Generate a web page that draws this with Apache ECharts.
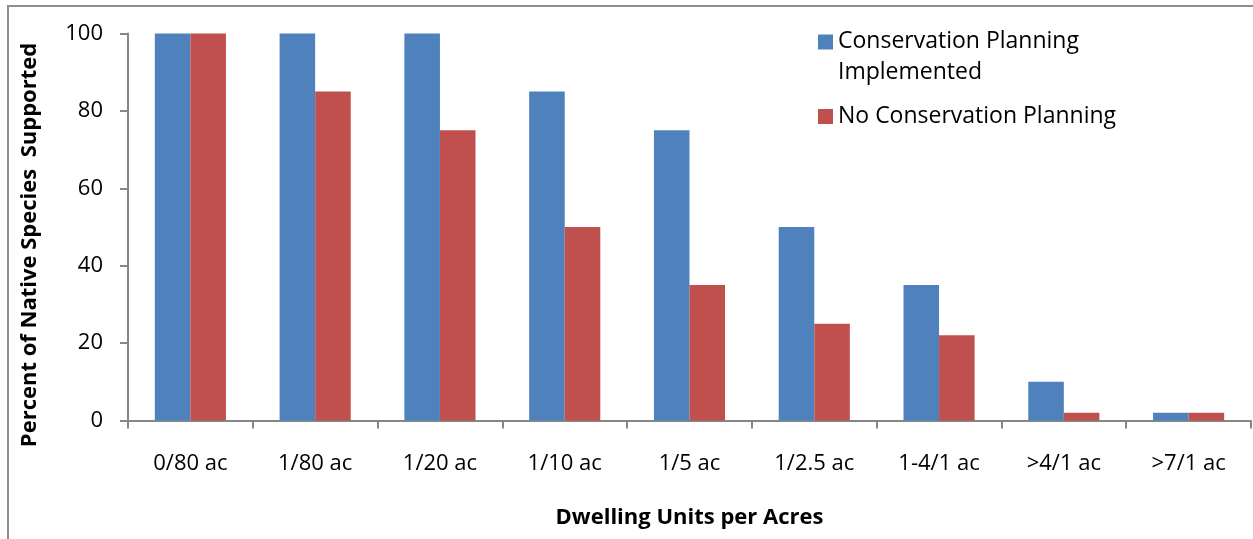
<!DOCTYPE html>
<html>
<head>
<meta charset="utf-8">
<script src="https://cdn.jsdelivr.net/npm/echarts@6/dist/echarts.min.js"></script>
<style>
html, body { margin: 0; padding: 0; background: #ffffff; }
#frame { position: absolute; left: 7px; top: 5px; width: 1260px; height: 560px;
  border-left: 2px solid #8e8e8e; border-top: 2px solid #8e8e8e; }
#chart { position: absolute; left: 0; top: 0; width: 1253px; height: 539px; }
</style>
</head>
<body>
<div id="frame"></div>
<div id="chart"></div>
<script>
const categories = ['0/80 ac', '1/80 ac', '1/20 ac', '1/10 ac', '1/5 ac', '1/2.5 ac', '1-4/1 ac', '>4/1 ac', '>7/1 ac'];
const conservationImplemented = [100, 100, 100, 85, 75, 50, 35, 10, 2];
const noConservation = [100, 85, 75, 50, 35, 25, 22, 2, 2];
const seriesNames = ['Conservation Planning Implemented', 'No Conservation Planning'];
const yTicks = { min: 0, max: 100, interval: 20 };

const FONT = '"Open Sans", "Liberation Sans", sans-serif';
const chart = echarts.init(document.getElementById('chart'), null, { renderer: 'canvas' });
chart.setOption({
  backgroundColor: 'transparent',
  animation: false,
  textStyle: { fontFamily: FONT, color: '#000' },
  grid: { left: 128, right: 2, top: 33.5, bottom: 118.5, containLabel: false },
  legend: [
    {
      left: 818, top: 26, orient: 'vertical', padding: 0,
      itemWidth: 15, itemHeight: 45,
      data: [{ name: seriesNames[0], icon: 'path://M0,0H15V15H0Z M0,45H0.01V45.01H0Z' }],
      formatter: () => 'Conservation Planning\nImplemented',
      textStyle: { fontFamily: FONT, fontSize: 23, color: '#000', lineHeight: 31 },
      selectedMode: false
    },
    {
      left: 818, top: 105, orient: 'vertical', padding: 0,
      itemWidth: 15, itemHeight: 15,
      data: [{ name: seriesNames[1], icon: 'rect' }],
      textStyle: { fontFamily: FONT, fontSize: 23, color: '#000' },
      selectedMode: false
    }
  ],
  xAxis: {
    type: 'category',
    data: categories,
    name: 'Dwelling Units per Acres',
    nameLocation: 'middle',
    nameGap: 86,
    nameTextStyle: { fontFamily: FONT, fontSize: 22, fontWeight: 'bold', color: '#000' },
    axisLine: { lineStyle: { color: '#868686', width: 2 } },
    axisTick: { show: true, inside: false, length: 8, lineStyle: { color: '#868686', width: 2 } },
    axisLabel: { fontFamily: FONT, fontSize: 22, color: '#000', margin: 32 },
    splitLine: { show: false }
  },
  yAxis: {
    type: 'value',
    min: yTicks.min, max: yTicks.max, interval: yTicks.interval,
    name: 'Percent of Native Species  Supported',
    nameLocation: 'middle',
    nameGap: 87,
    nameTextStyle: { fontFamily: FONT, fontSize: 22, fontWeight: 'bold', color: '#000', padding: [0, 36, 0, 0] },
    axisLine: { show: true, lineStyle: { color: '#868686', width: 2 } },
    axisTick: { show: true, inside: false, length: 8, lineStyle: { color: '#868686', width: 2 } },
    axisLabel: { fontFamily: FONT, fontSize: 22, color: '#000', margin: 25 },
    splitLine: { show: false }
  },
  series: [
    {
      name: seriesNames[0], type: 'bar', data: conservationImplemented,
      barGap: '0%', barCategoryGap: '43%',
      itemStyle: { color: '#4F81BD' }
    },
    {
      name: seriesNames[1], type: 'bar', data: noConservation,
      barGap: '0%', barCategoryGap: '43%',
      itemStyle: { color: '#C0504D' }
    }
  ]
});
</script>
</body>
</html>
